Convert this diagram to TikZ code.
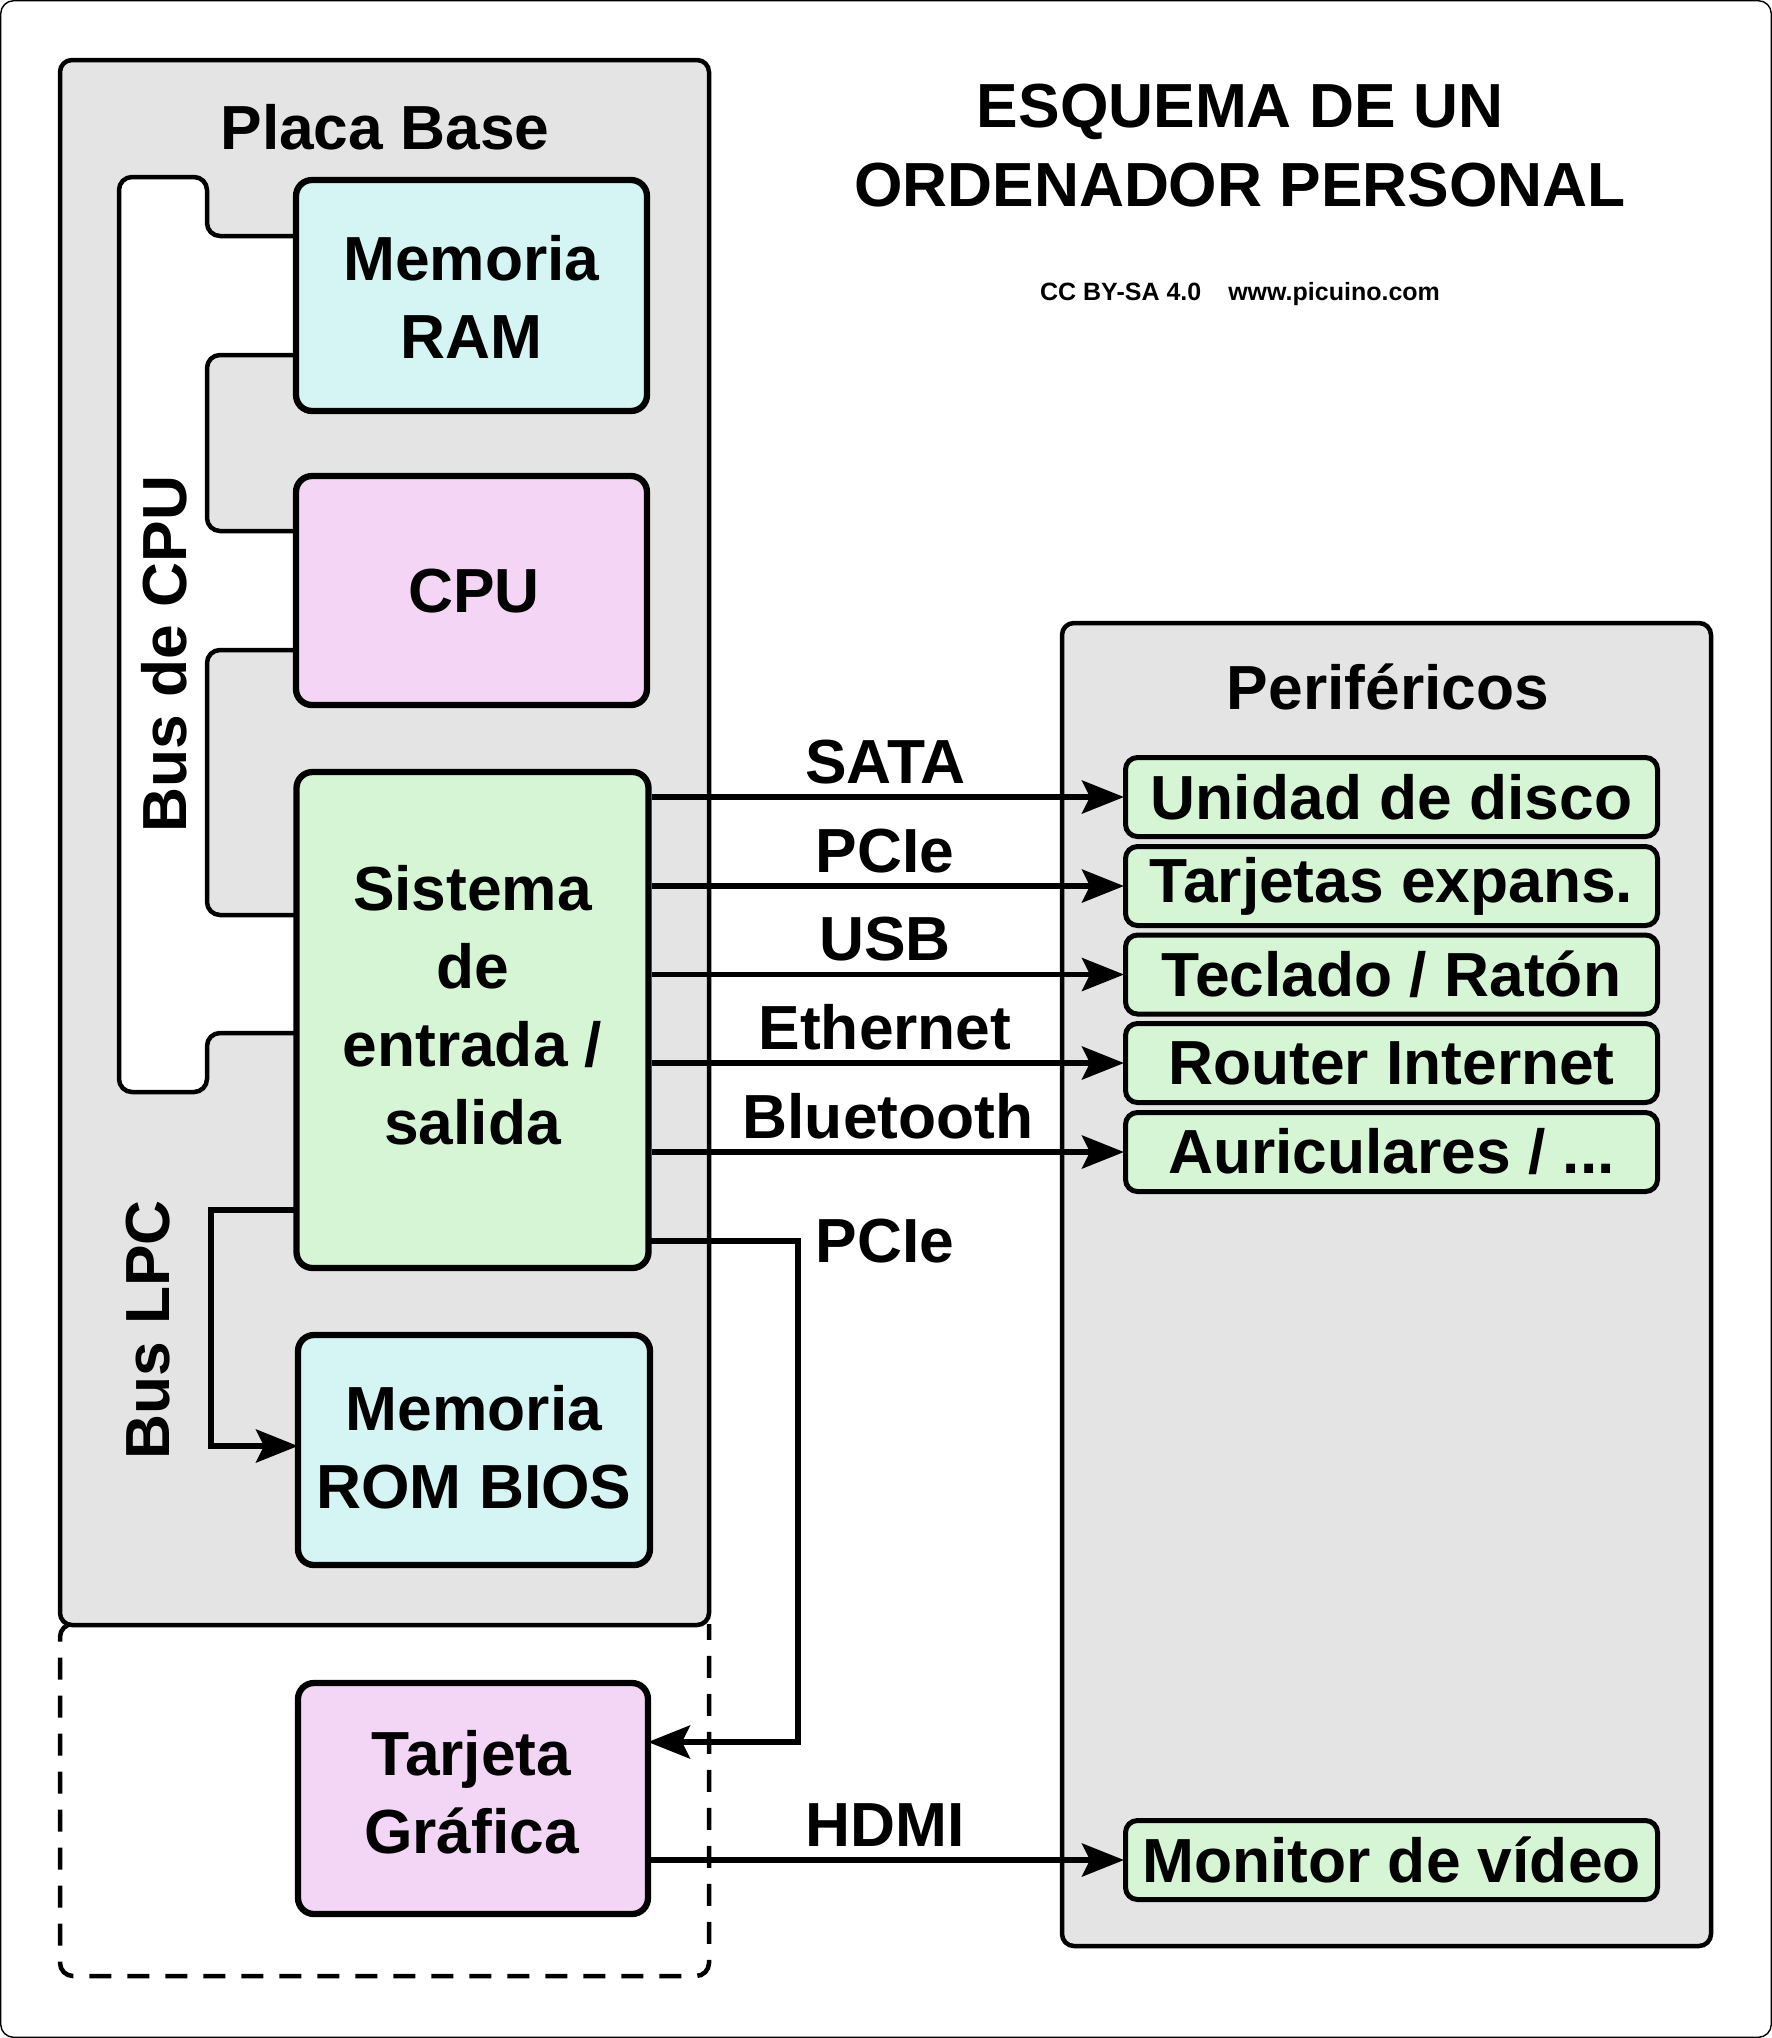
\documentclass[tikz,border=0pt]{standalone}
\usepackage{fontspec}
\setmainfont{Liberation Sans}
\usetikzlibrary{arrows.meta}
\definecolor{gbg}{HTML}{E4E4E4}
\definecolor{cyanbox}{HTML}{D5F5F5}
\definecolor{pinkbox}{HTML}{F5D5F5}
\definecolor{pinkboxb}{HTML}{F3D5F5}
\definecolor{greenbox}{HTML}{D5F5D5}
\tikzset{
  bigtxt/.style={font=\fontsize{62.3}{78}\selectfont\bfseries,align=center,text=black},
  mainbox/.style={draw=black,line width=6.3pt,rounded corners=16pt,inner sep=0pt,bigtxt},
  perbox/.style={draw=black,fill=greenbox,line width=5pt,rounded corners=12pt,inner sep=0pt,bigtxt,minimum width=532pt,minimum height=79pt},
  container/.style={draw=black,fill=gbg,line width=4.5pt,rounded corners=12pt,inner sep=0pt},
  conn/.style={draw=black,line width=5.6pt,-{Stealth[length=42pt,width=33pt,inset=8pt]}},
  clabel/.style={bigtxt,anchor=base,inner sep=0pt},
}
\begin{document}
\begin{tikzpicture}[x=1pt,y=-1pt]
\useasboundingbox (0,0) rectangle (1772,2038);
\draw[black,line width=1.4pt,fill=white,rounded corners=13pt] (0.7,0.7) rectangle (1771.3,2037.3);

% dashed expansion zone, then motherboard
\draw[black,line width=4.5pt,dash pattern=on 22pt off 16pt,dash phase=28pt,rounded corners=13pt]
  (80,1624) -- (60,1624) -- (60,1976) -- (709,1976) -- (709,1624);
\node[container,minimum width=649pt,minimum height=1565pt] (placa) at (384.5,842.5) {};
\node[bigtxt,inner sep=0pt] (placaT) at (385,127) {Placa Base};

% CPU bus
\draw[draw=black,fill=white,line width=4.5pt,rounded corners=13pt]
  (320,236) -- (207,236) -- (207,177) -- (119,177) -- (119,1092) -- (207,1092) -- (207,1033) -- (320,1033)
  -- (320,915) -- (207,915) -- (207,650) -- (320,650) -- (320,531) -- (207,531) -- (207,355) -- (320,355) -- cycle;
\node[bigtxt,rotate=90,inner sep=0pt] (busCPU) at (164,654) {Bus de CPU};
\node[bigtxt,rotate=90,inner sep=0pt] (busLPC) at (148,1330) {Bus LPC};

% main boxes
\node[mainbox,fill=cyanbox,minimum width=351pt,minimum height=231pt,
  label={[bigtxt,inner sep=0pt,yshift=-1pt]center:Memoria\\RAM}] (ram) at (471.5,295.5) {};
\node[mainbox,fill=pinkbox,minimum width=351pt,minimum height=229pt,
  label={[bigtxt,inner sep=0pt,xshift=2.6pt,yshift=-1pt]center:CPU}] (cpu) at (471.5,590.5) {};
\node[mainbox,fill=greenbox,minimum width=352pt,minimum height=496pt,
  label={[bigtxt,inner sep=0pt,yshift=15pt]center:Sistema\\de\\entrada /\\salida}] (sio) at (472.5,1020) {};
\node[mainbox,fill=cyanbox,minimum width=352pt,minimum height=230pt,
  label={[bigtxt,inner sep=0pt,yshift=2.6pt]center:Memoria\\ROM BIOS}] (rom) at (474,1450) {};
\node[mainbox,fill=pinkboxb,minimum width=350pt,minimum height=231pt,
  label={[bigtxt,inner sep=0pt,yshift=6.5pt,xshift=-1.5pt]center:Tarjeta\\Gráfica}] (gpu) at (473,1798.5) {};

% peripherals
\node[container,minimum width=649pt,minimum height=1323pt] (peri) at (1386.5,1284.5) {};
\node[bigtxt,inner sep=0pt] (periT) at (1388,687) {Periféricos};
\node[perbox] (disco) at (1391.5,797) {Unidad de disco};
\node[perbox] (tarj)  at (1391.5,886) {Tarjetas expans.};
\node[perbox] (tecl)  at (1391.5,974.5) {Teclado / Ratón};
\node[perbox] (rout)  at (1391.5,1063) {Router Internet};
\node[perbox] (auri)  at (1391.5,1152) {Auriculares / ...};
\node[perbox] (moni)  at (1391.5,1860) {Monitor de vídeo};

% connectors
\draw[conn] (sio.east |- disco.west) -- ([xshift=1pt]disco.west);
\draw[conn] (sio.east |- tarj.west) -- ([xshift=1pt]tarj.west);
\draw[conn] (sio.east |- tecl.west) -- ([xshift=1pt]tecl.west);
\draw[conn] (sio.east |- rout.west) -- ([xshift=1pt]rout.west);
\draw[conn] (sio.east |- auri.west) -- ([xshift=1pt]auri.west);
\draw[conn] (gpu.east |- moni.west) -- ([xshift=1pt]moni.west);
\coordinate (lpcOut) at (296,1210);
\coordinate (lpcIn) at (298,1446);
\draw[conn] (lpcOut) -- (211,1210) -- (211,1446) -- (lpcIn);
\coordinate (pcieOut) at (649,1241);
\coordinate (pcieIn) at (648,1742);
\draw[conn] (pcieOut) -- (798,1241) -- (798,1742) -- (pcieIn);

% connector labels
\node[clabel] (lSata) at (885.5,783) {SATA};
\node[clabel] (lPcie) at (885,872) {PCIe};
\node[clabel] (lUsb)  at (885,960) {USB};
\node[clabel] (lEth)  at (885,1049) {Ethernet};
\node[clabel] (lBt)   at (888,1138) {Bluetooth};
\node[clabel] (lPcieB) at (885,1262) {PCIe};
\node[clabel] (lHdmi) at (885,1846) {HDMI};

% title
\node[bigtxt,inner sep=0pt] (t1) at (1240,112) {ESQUEMA DE UN};
\node[bigtxt,inner sep=0pt] (t2) at (1240,185) {ORDENADOR PERSONAL};
\node[font=\fontsize{25}{30}\selectfont\bfseries,inner sep=0pt] (cc) at (1240,294.5) {CC BY-SA 4.0\hspace{27pt}www.picuino.com};
\end{tikzpicture}
\end{document}
